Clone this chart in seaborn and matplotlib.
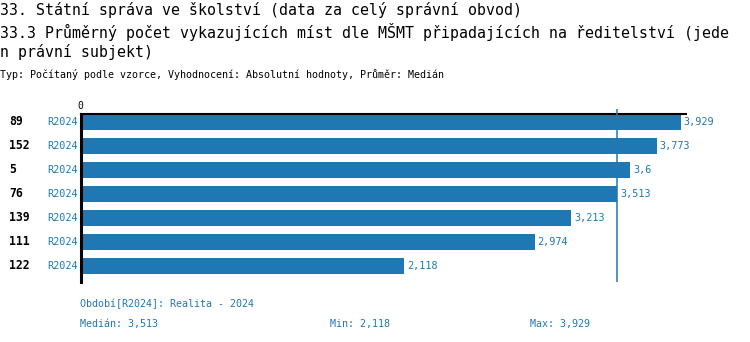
import numpy as np
import pandas as pd
import matplotlib
matplotlib.use("Agg")
import matplotlib.pyplot as plt
import seaborn as sns

# Data
ids = ["89", "152", "5", "76", "139", "111", "122"]
periods = ["R2024"] * 7
values = [3.929, 3.773, 3.6, 3.513, 3.213, 2.974, 2.118]

title_1 = "33. Státní správa ve školství (data za celý správní obvod)"
title_2 = "33.3 Průměrný počet vykazujících míst dle MŠMT připadajících na ředitelství (jede"
title_3 = "n právní subjekt)"
subtitle = "Typ: Počítaný podle vzorce, Vyhodnocení: Absolutní hodnoty, Průměr: Medián"
period_note = "Období[R2024]: Realita - 2024"

BLUE = "#1f77b4"
MONO = "DejaVu Sans Mono"


def cz(v):
    s = f"{v:.3f}".rstrip("0").rstrip(".")
    return s.replace(".", ",")


sns.set_theme(style="white")
plt.rcParams["font.family"] = [MONO, "DejaVu Sans"]

df = pd.DataFrame({"id": ids, "period": periods, "value": values})

fig = plt.figure(figsize=(7.5, 3.42), dpi=100)
W, H = 750, 342
x0, x1, y0, y1 = 80.7, 686, 114, 282
ax = fig.add_axes([x0 / W, 1 - y1 / H, (x1 - x0) / W, (y1 - y0) / H])

bar_w = 0.646
sns.barplot(data=df, x="value", y="id", order=ids, orient="h",
            color=BLUE, saturation=1, width=bar_w, linewidth=0, ax=ax)

ax.set_xlim(0, (x1 - x0) / 152.7)
ax.set_ylim(6 + bar_w / 2 + 8.5 / 24, -bar_w / 2)

# Frame: only top and left lines
for side in ["right", "bottom"]:
    ax.spines[side].set_visible(False)
ax.spines["top"].set_color("black")
ax.spines["top"].set_linewidth(1.5)
ax.spines["left"].set_color("black")
ax.spines["left"].set_linewidth(2.2)

ax.xaxis.tick_top()
ax.set_xticks([0])
ax.set_xticklabels(["0"])
ax.tick_params(axis="x", length=0, pad=2, labelsize=7, labelcolor="black")
ax.set_yticks([])
ax.set_xlabel("")
ax.set_ylabel("")

# Median reference line
med = float(np.median(values))
ax.vlines(med, -bar_w / 2 - 5 / 24, 6 + bar_w / 2 + 8.5 / 24,
          color=BLUE, linewidth=1.1, clip_on=False, zorder=3)

# Value labels
ax.bar_label(ax.containers[0], labels=[cz(v) for v in values],
             padding=2, color=BLUE, fontsize=7.3, family=MONO)

# Row labels
trans = matplotlib.transforms.blended_transform_factory(fig.transFigure, ax.transData)
for i, (rid, per) in enumerate(zip(ids, periods)):
    ax.text(9 / W, i, rid, transform=trans, ha="left", va="center",
            fontsize=8.3, fontweight="bold", color="black")
    ax.text(78 / W, i, per, transform=trans, ha="right", va="center",
            fontsize=7.3, color=BLUE)

# Titles
fig.text(0 / W, 1 - 10.5 / H, title_1, ha="left", va="center", fontsize=10.7, color="black")
fig.text(0 / W, 1 - 32 / H, title_2, ha="left", va="center", fontsize=10.7, color="black")
fig.text(0 / W, 1 - 52 / H, title_3, ha="left", va="center", fontsize=10.7, color="black")
fig.text(0 / W, 1 - 74 / H, subtitle, ha="left", va="center", fontsize=7.2, color="black")

# Footer
fig.text(80 / W, 1 - 303.5 / H, period_note, ha="left", va="center", fontsize=7.2, color=BLUE)
fig.text(80 / W, 1 - 323.5 / H, f"Medián: {cz(med)}", ha="left", va="center", fontsize=7.2, color=BLUE)
fig.text(330 / W, 1 - 323.5 / H, f"Min: {cz(min(values))}", ha="left", va="center", fontsize=7.2, color=BLUE)
fig.text(530 / W, 1 - 323.5 / H, f"Max: {cz(max(values))}", ha="left", va="center", fontsize=7.2, color=BLUE)

fig.savefig("out.png", dpi=100)
